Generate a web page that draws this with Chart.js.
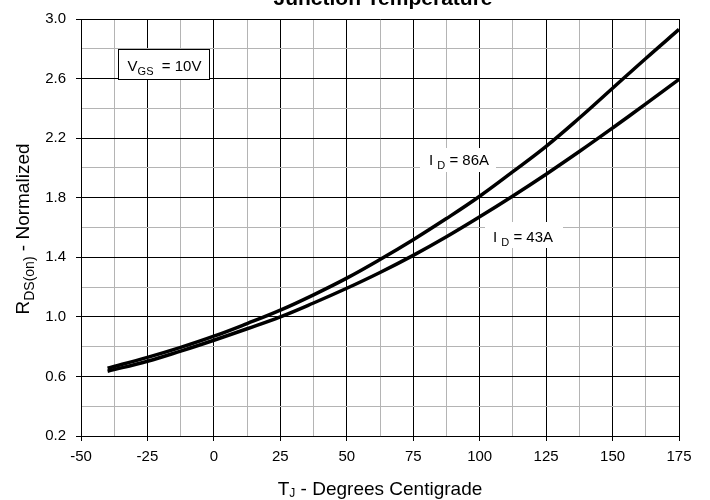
<!DOCTYPE html>
<html lang="en">
<head>
  <meta charset="UTF-8" />
  <title>RDS(on) vs Junction Temperature</title>
  <script src="https://cdn.jsdelivr.net/npm/chart.js"></script>
  <style>
    html, body {
      margin: 0;
      padding: 0;
      background: #fff;
    }
    #wrap {
      width: 710px;
      height: 500px;
    }
  </style>
</head>
<body>
  <div id="wrap">
    <canvas id="rdsChart" width="710" height="500"></canvas>
  </div>

  <script>
    // values
    const temps = [-40, -25, -12.5, 0, 12.5, 25, 37.5, 50, 62.5, 75, 87.5, 100, 112.5, 125, 137.5, 150, 162.5, 175];
    const rds86A = [0.655, 0.728, 0.795, 0.87, 0.955, 1.045, 1.148, 1.26, 1.385, 1.518, 1.66, 1.81, 1.975, 2.145, 2.335, 2.535, 2.735, 2.93];
    const rds43A = [0.635, 0.702, 0.77, 0.843, 0.92, 1.0, 1.093, 1.192, 1.298, 1.413, 1.538, 1.672, 1.812, 1.958, 2.11, 2.268, 2.43, 2.595];
    const xTicks = [-50, -25, 0, 25, 50, 75, 100, 125, 150, 175];
    const yTicks = [0.2, 0.6, 1.0, 1.4, 1.8, 2.2, 2.6, 3.0];

    const FONT = '"Liberation Sans", Arial, sans-serif';
    const MAJOR = '#000000';
    const MINOR = '#b4b4b4';

    const isXMajor = v => xTicks.some(t => Math.abs(t - v) < 1e-6);
    const isYMajor = v => yTicks.some(t => Math.abs(t - v) < 1e-6);

    const toPoints = ys => temps.map((t, i) => ({ x: t, y: ys[i] }));

    // draws text made of pieces, some of them subscript
    function richText(ctx, parts, x, y, size, align) {
      let total = 0;
      parts.forEach(p => {
        p.size = p.sub ? (p.size || Math.round(size * 0.75)) : size;
        ctx.font = p.size + 'px ' + FONT;
        p.w = ctx.measureText(p.t).width;
        total += p.w;
      });
      let cx = align === 'center' ? x - total / 2 : x;
      parts.forEach(p => {
        ctx.font = p.size + 'px ' + FONT;
        const dy = p.sub ? (p.dy !== undefined ? p.dy : size * 0.27) : 0;
        ctx.fillText(p.t, cx, y + dy);
        cx += p.w;
      });
      return total;
    }

    // label boxes sit under the curves
    const labelBoxes = {
      id: 'labelBoxes',
      beforeDatasetsDraw(chart) {
        const ctx = chart.ctx;
        ctx.save();
        ctx.textBaseline = 'alphabetic';
        ctx.textAlign = 'left';

        // VGS box
        ctx.fillStyle = '#fff';
        ctx.fillRect(118, 49, 91, 30);
        ctx.strokeStyle = '#000';
        ctx.lineWidth = 1;
        ctx.strokeRect(118.5, 49.5, 91, 30);
        ctx.fillStyle = '#000';
        richText(ctx, [{ t: 'V' }, { t: 'GS', sub: true }, { t: '  = 10V' }], 164.5, 71, 15, 'center');

        // current labels with white backing
        const labels = [
          { cx: 459, base: 165, text: '= 86A', box: [420, 148, 76, 24] },
          { cx: 523, base: 242, text: '= 43A', box: [485, 222, 78, 26] }
        ];
        labels.forEach(l => {
          ctx.fillStyle = '#fff';
          ctx.fillRect(l.box[0], l.box[1], l.box[2], l.box[3]);
          ctx.fillStyle = '#000';
          richText(ctx, [{ t: 'I ' }, { t: 'D', sub: true }, { t: ' ' + l.text }], l.cx, l.base, 15, 'center');
        });
        ctx.restore();
      },
      afterDraw(chart) {
        const ctx = chart.ctx;
        ctx.save();
        ctx.fillStyle = '#000';
        ctx.textBaseline = 'alphabetic';

        // title, clipped at the top of the picture
        ctx.font = 'bold 21px ' + FONT;
        ctx.textAlign = 'center';
        ctx.fillText('Junction Temperature', 383, 5);
        ctx.textAlign = 'left';

        // x axis title
        richText(ctx, [{ t: 'T' }, { t: 'J', sub: true, size: 12, dy: 2 }, { t: ' - Degrees Centigrade' }], 380, 495, 19, 'center');

        // y axis title, rotated
        ctx.save();
        ctx.translate(29, 229);
        ctx.rotate(-Math.PI / 2);
        richText(ctx, [{ t: 'R' }, { t: 'DS(on)', sub: true }, { t: ' - Normalized' }], 0, 0, 19, 'center');
        ctx.restore();

        ctx.restore();
      }
    };

    const ctx = document.getElementById('rdsChart').getContext('2d');
    new Chart(ctx, {
      type: 'line',
      data: {
        datasets: [
          {
            label: 'ID = 86A',
            data: toPoints(rds86A),
            borderColor: '#000',
            borderWidth: 3.5,
            pointRadius: 0,
            tension: 0.4,
            fill: false
          },
          {
            label: 'ID = 43A',
            data: toPoints(rds43A),
            borderColor: '#000',
            borderWidth: 3.5,
            pointRadius: 0,
            tension: 0.4,
            fill: false
          }
        ]
      },
      options: {
        responsive: false,
        animation: false,
        layout: {
          padding: { left: 0, top: 17, right: 31, bottom: 0 }
        },
        plugins: {
          legend: { display: false },
          title: { display: false },
          tooltip: { enabled: false }
        },
        scales: {
          x: {
            type: 'linear',
            min: -50,
            max: 175,
            afterFit: s => { s.height = 64; },
            border: { color: '#000', width: 1 },
            grid: {
              color: c => isXMajor(c.tick.value) ? MAJOR : MINOR,
              tickColor: c => isXMajor(c.tick.value) ? MAJOR : 'rgba(0,0,0,0)',
              tickLength: 5,
              lineWidth: 1
            },
            ticks: {
              stepSize: 12.5,
              autoSkip: false,
              maxRotation: 0,
              padding: 7,
              color: '#000',
              font: { family: FONT, size: 15 },
              callback: v => isXMajor(v) ? String(v) : ''
            }
          },
          y: {
            type: 'linear',
            min: 0.2,
            max: 3.0,
            afterFit: s => { s.width = 81; },
            border: { color: '#000', width: 1 },
            grid: {
              color: c => isYMajor(c.tick.value) ? MAJOR : MINOR,
              tickColor: c => isYMajor(c.tick.value) ? MAJOR : 'rgba(0,0,0,0)',
              tickLength: 5,
              lineWidth: 1
            },
            ticks: {
              stepSize: 0.2,
              autoSkip: false,
              padding: 10,
              color: '#000',
              font: { family: FONT, size: 15 },
              callback: v => isYMajor(v) ? v.toFixed(1) : ''
            }
          }
        }
      },
      plugins: [labelBoxes]
    });
  </script>
</body>
</html>
